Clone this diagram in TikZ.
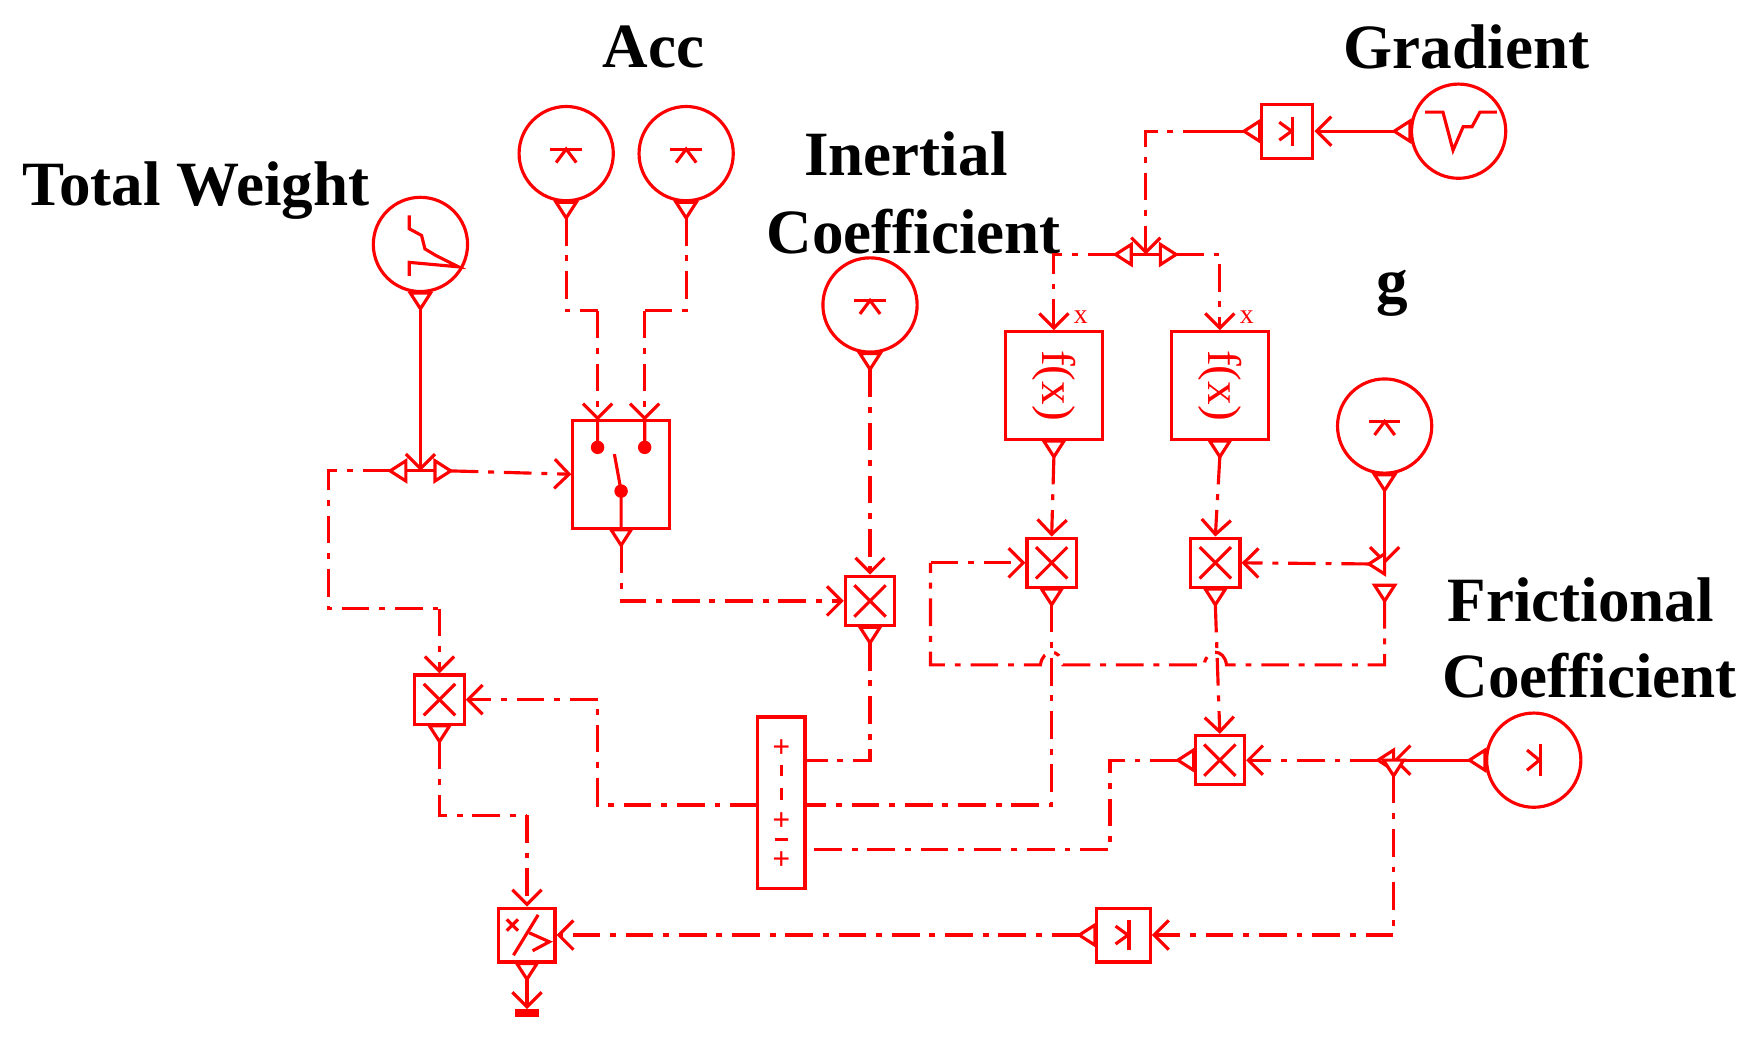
\documentclass[tikz,border=0pt]{standalone}
\usepackage{fontspec}
\setmainfont{Liberation Serif}
\usetikzlibrary{arrows.meta,calc}
\begin{document}
\begin{tikzpicture}[x=0.01cm,y=-0.01cm,
 src/.style={circle,draw=red,thick,minimum size=0.84cm,inner sep=0},
 mbox/.style={rectangle,draw=red,thick,minimum width=0.44cm,minimum height=0.44cm,inner sep=0},
 big/.style={rectangle,draw=red,thick,minimum width=0.86cm,minimum height=0.96cm,inner sep=0},
 sig/.style={draw=red,thick,dash pattern=on 7pt off 2.5pt on 1.5pt off 2.5pt},
 sol/.style={draw=red,thick},
 arr/.style={-{Straight Barb[length=1.3mm,width=2.6mm]}},
 lab/.style={font=\fontsize{16}{19}\selectfont\bfseries,text=black},
 sl/.style={text=red,font=\footnotesize\bfseries,inner sep=0},
 tri/.pic={\draw[red,thick,solid,fill=white] (-9,0)--(9,0)--(0,14)--cycle;},
 ic/.style={red,thick}]
\useasboundingbox (0,0) rectangle (1568,930);
% labels
\node[lab] (lacc) at (583,42) {Acc};
\node[lab] (lgrad) at (1308,42) {Gradient};
\node[lab] (ltw) at (175,170) {Total Weight};
\node[lab] (lin1) at (808,137) {Inertial};
\node[lab] (lin2) at (815,207) {Coefficient};
\node[lab] (lg) at (1242,262) {g};
\node[lab] (lfr1) at (1410,535) {Frictional};
\node[lab] (lfr2) at (1418,603) {Coefficient};
% sources
\node[src] (tw) at (375,218) {};
\node[src] (acc1) at (505,137) {};
\node[src] (acc2) at (612,137) {};
\node[src] (inr) at (776,272) {};
\node[src] (grad) at (1301,117) {};
\node[src] (gc) at (1235,380) {};
\node[src] (fr) at (1368,678) {};
% icons in sources
\draw[ic] (365,192)--(365,204)--(376,210)--(379,222)--(389,228)--(409,238)--(365,234)--(365,246);
\draw[ic] (1271,100)--(1287,100)--(1296,134)--(1305,113)--(1313,113)--(1320,100)--(1335,100);
\foreach \n in {acc1,acc2,inr,gc}{
 \draw[ic] ($(\n)+(-14,-4)$)--($(\n)+(14,-4)$);
 \draw[ic] ($(\n)+(-9,8)$)--($(\n)+(0,-4)$)--($(\n)+(9,8)$);}
\draw[ic] (1374,664)--(1374,692); \draw[ic] (1362,669)--(1373,678)--(1362,687);
% boxes
\node[mbox,minimum width=0.46cm,minimum height=0.48cm] (kg) at (1148,117) {};
\draw[ic] (1153,104)--(1153,130); \draw[ic] (1141,109)--(1152,117)--(1141,125);
\node[mbox,minimum width=0.48cm,minimum height=0.48cm] (kb) at (1002,834) {};
\draw[ic] (1007,821)--(1007,847); \draw[ic] (995,826)--(1006,834)--(995,842);
\node[big] (fx1) at (940,344) {};
\node[big] (fx2) at (1088,344) {};
\foreach \n in {fx1,fx2}{\node[rotate=-90,text=red,font=\large] at (\n) {f(x)};}
\node[text=red,font=\scriptsize] at (964,283) {x};
\node[text=red,font=\scriptsize] at (1112,283) {x};
\node[big] (sw) at (554,423) {};
\node[mbox] (m1) at (938,502) {};
\node[mbox] (m2) at (1084,502) {};
\node[mbox] (mi) at (776,536) {};
\node[mbox] (ml) at (392,624) {};
\node[mbox] (mf) at (1088,678) {};
\foreach \n in {m1,m2,mi,ml,mf}{
 \draw[ic] ($(\n)+(-14,-14)$)--($(\n)+(14,14)$); \draw[ic] ($(\n)+(-14,14)$)--($(\n)+(14,-14)$);}
\node[mbox,minimum width=0.5cm,minimum height=0.48cm] (dv) at (470,834) {};
\draw[ic] (452,820)--(462,830); \draw[ic] (452,830)--(462,820);
\draw[ic] (480,816)--(458,852); \draw[ic] (472,832)--(490,840)--(475,848);
\node[rectangle,draw=red,thick,minimum width=0.42cm,minimum height=1.53cm,inner sep=0] (sum) at (697,716) {};
\node[sl] (s1) at (697,668) {+};
\draw[ic,dashed] (697,682)--(697,718);
\node[sl] (s2) at (697,733) {+};
\draw[ic] (691,749)--(703,749);
\node[sl] (s3) at (697,768) {+};
\coordinate (p1) at (718,678); \coordinate (p2) at (718,718);
\coordinate (p3) at (718,758); \coordinate (pl) at (676,718);
% switch internals
\fill[red] (533,399) circle (6) (575,399) circle (6) (554,438) circle (6);
\draw[ic] (533,375)--(533,399) (575,375)--(575,399) (548,405)--(554,438)--(554,471);
% junction coordinates
\coordinate (gj) at (1022,227);
\coordinate (gjn) at (1235,503);
\coordinate (fj) at (1243,678);
\coordinate (twj) at (375,420);
% output triangles
\foreach \n in {tw,acc1,acc2,inr,gc,fx1,fx2,sw,m1,m2,mi,ml,dv}{\pic at (\n.south) {tri};}
\pic[rotate=-90] at (grad.west) {tri};
\pic[rotate=-90] at (fr.west) {tri};
\pic[rotate=-90] at (kg.west) {tri};
\pic[rotate=-90] at (kb.west) {tri};
\pic[rotate=-90] at (mf.west) {tri};
% connectors
\draw[sol,arr] ($(grad.west)+(-14,0)$) -- (kg.east);
\draw[sol] ($(kg.west)+(-14,0)$) -- (1080,117);
\draw[sig,arr] (1080,117) -| (gj);
\draw[sol] (995,227)--(1048,227);
\pic[rotate=-90] at (1009,227) {tri}; \pic[rotate=90] at (1035,227) {tri};
\draw[sig,arr] (995,227) -| (fx1.north);
\draw[sig,arr] (1049,227) -| (fx2.north);
\draw[sig,arr] ($(fx1.south)+(0,14)$) -- (m1.north);
\draw[sig,arr] ($(fx2.south)+(0,14)$) -- (m2.north);
\draw[sol,arr] ($(gc.south)+(0,14)$) -- (gjn);
\pic[rotate=-90] at (1235,503) {tri};
\draw[sig,arr] (1221,503) -- (m2.east);
\pic at (1235,522) {tri};
\draw[sig] (1235,536) -- (1235,593) -- (1094,593) .. controls (1092,578) and (1076,578) .. (1074,593) -- (948,593) .. controls (946,578) and (930,578) .. (928,593) -- (830,593) -- (830,502);
\draw[sig,arr] (830,502) -- (m1.west);
\draw[sig] ($(m1.south)+(0,14)$) |- (p2);
\draw[sig,arr] ($(sw.south)+(0,14)$) |- (mi.west);
\draw[sig,arr] ($(inr.south)+(0,14)$) -- (mi.north);
\draw[sig] ($(mi.south)+(0,14)$) |- (p1);
\draw[sig,arr] ($(m2.south)+(0,14)$) -- (mf.north);
\draw[sol,arr] ($(fr.west)+(-14,0)$) -- (fj);
\pic[rotate=-90] at (fj) {tri};
\draw[sig,arr] (1229,678) -- (mf.east);
\pic at (fj) {tri};
\draw[sig,arr] (1243,692) |- (kb.east);
\draw[sig,arr] ($(kb.west)+(-14,0)$) -- (dv.east);
\draw[sig] ($(mf.west)+(-14,0)$) -| (990,758) -- (p3);
\draw[sig] (pl) -| (533,624);
\draw[sig,arr] (533,624) -- (ml.east);
\draw[sol,arr] ($(tw.south)+(0,14)$) -- (twj);
\draw[sol] (348,420)--(402,420);
\pic[rotate=-90] at (362,420) {tri}; \pic[rotate=90] at (388,420) {tri};
\draw[sig,arr] (402,420) -- (sw.west);
\draw[sig] (348,420) -| (293,543) -- (392,543);
\draw[sig,arr] (392,543) -- (ml.north);
\draw[sig] ($(acc1.south)+(0,14)$) |- (533,277);
\draw[sig,arr] (533,277) -- (533,375);
\draw[sig] ($(acc2.south)+(0,14)$) |- (575,277);
\draw[sig,arr] (575,277) -- (575,375);
\draw[sig] ($(ml.south)+(0,14)$) |- (470,727);
\draw[sig,arr] (470,727) -- (dv.north);
\coordinate (gnd) at (470,900);
\draw[sol,arr] ($(dv.south)+(0,14)$) -- (gnd);
\fill[red] (459,900) rectangle (481,907);
\end{tikzpicture}
\end{document}
